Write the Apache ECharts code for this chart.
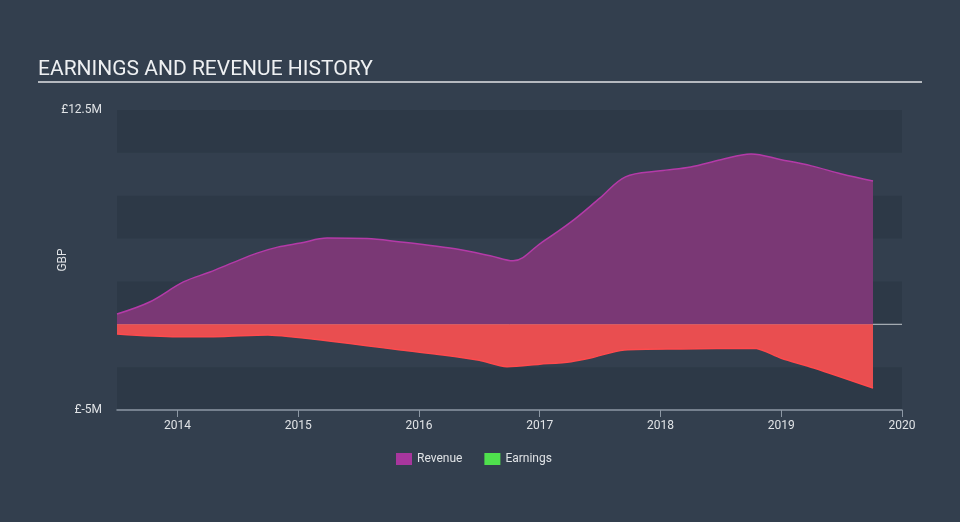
<!DOCTYPE html>
<html><head><meta charset="utf-8">
<script src="https://cdn.jsdelivr.net/npm/echarts@6/dist/echarts.min.js"></script>
<style>html,body{margin:0;padding:0;background:#333f4e;}#c{width:960px;height:522px;}</style>
</head><body><div id="c"></div>
<script>
// Data (years as decimals, values in £M)
const revenueX = [2013.5,2013.77,2014.05,2014.27,2014.46,2014.66,2014.83,2015.02,2015.24,2015.57,2015.85,2016.0,2016.3,2016.59,2016.78,2017.01,2017.26,2017.5,2017.71,2018.0,2018.25,2018.5,2018.75,2019.0,2019.25,2019.5,2019.76];
const revenueY = [0.6,1.3,2.47,3.05,3.6,4.15,4.5,4.74,5.03,5.0,4.8,4.68,4.4,4.0,3.7,4.74,5.97,7.37,8.6,8.95,9.18,9.6,9.94,9.6,9.24,8.77,8.36];
const earningsX = [2013.5,2014.0,2014.3,2014.75,2014.96,2015.29,2015.57,2015.85,2016.2,2016.5,2016.73,2017.0,2017.26,2017.42,2017.7,2018.17,2018.77,2019.0,2019.27,2019.76];
const earningsY = [-0.56,-0.72,-0.72,-0.62,-0.74,-1.0,-1.25,-1.5,-1.79,-2.1,-2.47,-2.33,-2.18,-1.97,-1.5,-1.44,-1.4,-1.98,-2.55,-3.72];
const yearTicks = [2014,2015,2016,2017,2018,2019,2020];
const yMin = -5, yMax = 12.5, yStep = 2.5;
const yLabels = {"12.5":"£12.5M","-5":"£-5M"};

const chart = echarts.init(document.getElementById('c'), null, {renderer:'canvas'});
const zip = (xs, ys) => xs.map((x,i)=>[x, ys[i]]);
const font = 'Roboto';
chart.setOption({
  backgroundColor: '#333f4e',
  animation: false,
  textStyle: {fontFamily: font},
  graphic: [
    {type:'text', left:38, top:59, style:{text:'EARNINGS AND REVENUE HISTORY', fill:'#eef0f2', font:'21px Roboto'}},
    {type:'rect', shape:{x:38, y:81, width:884, height:2}, style:{fill:'#b5b9bf'}}
  ],
  legend: {
    bottom: 52, left: 391,
    itemWidth: 16, itemHeight: 12, itemGap: 22, icon: 'rect',
    textStyle: {color:'#e0e3e6', fontSize:12, fontFamily: font},
    data: [
      {name:'Revenue', itemStyle:{color:'#a8369d'}},
      {name:'Earnings', itemStyle:{color:'#4fe04d'}}
    ]
  },
  grid: {left:117, right:58, top:110, bottom:112, containLabel:false},
  xAxis: {
    type:'value', min:2013.5, max:2020,
    axisLine:{onZero:false, lineStyle:{color:'#8d98a5', width:1.5}},
    axisTick:{show:true, customValues: yearTicks, length:7, lineStyle:{color:'#8d98a5', width:1}},
    axisLabel:{customValues: yearTicks, color:'#e0e3e6', fontSize:12, margin:10, fontFamily:font, formatter: v => String(Math.round(v))},
    splitLine:{show:false}
  },
  yAxis: {
    type:'value', min:yMin, max:yMax, interval:yStep,
    name:'GBP', nameLocation:'middle', nameGap:48, nameRotate:90, nameMoveOverlap:false,
    nameTextStyle:{color:'#e0e3e6', fontSize:12, fontFamily:font},
    axisLine:{show:false}, axisTick:{show:false},
    axisLabel:{color:'#e0e3e6', fontSize:12, margin:15, fontFamily:font,
      formatter: v => yLabels[String(v)] || ''},
    splitLine:{show:false},
    splitArea:{show:true, areaStyle:{color:['rgba(38,50,62,0.4)','rgba(0,0,0,0)']}}
  },
  series: [
    {name:'Zero', type:'line', data:[[2013.5,0],[2020,0]], symbol:'none', z:1,
      lineStyle:{color:'#c3c8ce', width:1}, silent:true},
    {name:'Revenue', type:'line', data: zip(revenueX, revenueY), smooth:0.35, symbol:'none', z:3,
      lineStyle:{color:'#b43aa8', width:1.5}, itemStyle:{color:'#a8369d'},
      areaStyle:{color:'#7a3875', opacity:1}},
    {name:'Earnings', type:'line', data: zip(earningsX, earningsY), smooth:0.3, symbol:'none', z:3,
      lineStyle:{color:'#ff4a4d', width:1.5}, itemStyle:{color:'#4fe04d'},
      areaStyle:{color:'#e94e50', opacity:1}}
  ]
});
</script></body></html>
